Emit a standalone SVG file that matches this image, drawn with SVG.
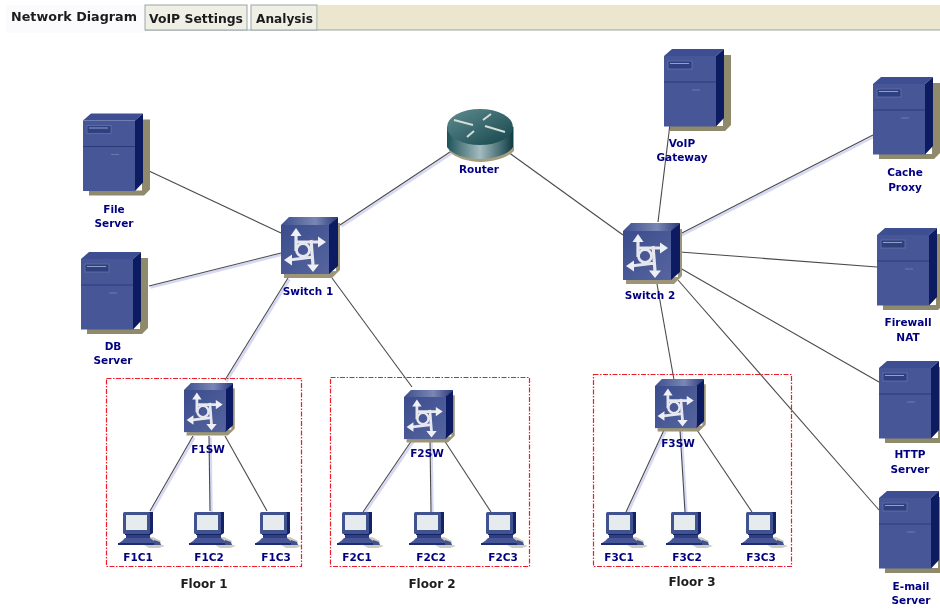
<svg xmlns="http://www.w3.org/2000/svg" width="940" height="610" viewBox="0 0 940 610">
<style>
text{font-family:"DejaVu Sans",Verdana,sans-serif;font-weight:bold}
.l{font-size:10.5px;fill:#000080;text-anchor:middle}
.f{font-size:12px;fill:#1a1a1a;text-anchor:middle}
.t{font-size:12.5px;fill:#1c1c1c}
.c line{stroke:#4a4a4a;stroke-width:1.1}
.h line{stroke:#d6d8f6;stroke-width:2.5}
.z{fill:none;stroke:#ee1c2c;stroke-width:1.2;stroke-dasharray:5 1.5 1.5 1.5}
.tab{fill:#f0efe6;stroke:#9aa5a5;stroke-width:1}
</style>
<defs>
<filter id="soft" x="0" y="0" width="100%" height="100%"><feGaussianBlur stdDeviation="0.35"/></filter>
<linearGradient id="rg" x1="0" x2="1" y1="0" y2="0"><stop offset="0" stop-color="#1d5258"/><stop offset=".5" stop-color="#a3bcc0"/><stop offset="1" stop-color="#0f3b42"/></linearGradient>
<linearGradient id="rt" x1="0" x2="1" y1="0" y2="1"><stop offset="0" stop-color="#5f8d90"/><stop offset="1" stop-color="#14444a"/></linearGradient>
<linearGradient id="st" x1="0" x2="1" y1="0" y2="0"><stop offset="0" stop-color="#3d4f8e"/><stop offset=".6" stop-color="#7a86b4"/><stop offset="1" stop-color="#2c3a7c"/></linearGradient>
<linearGradient id="sf" x1="0" x2="1" y1="0" y2="1"><stop offset="0" stop-color="#3b4c8c"/><stop offset="1" stop-color="#56659f"/></linearGradient>
<symbol id="server-icon" overflow="visible">
<path d="M6 75H61l6-6V-1H59V70H6z" fill="#8f8a6c"/>
<path d="M0 0l8-7h52l-8 7z" fill="#3d5092"/>
<path d="M52 0l8-7v69l-8 8.500z" fill="#0f1f60"/>
<rect width="52" height="70.500" fill="#465796"/>
<path d="M0 26h52" stroke="#2c3b7c"/>
<rect x="4" y="5" width="24" height="8" fill="#2f3f80" stroke="#6373a8" stroke-width=".8"/>
<path d="M6 7.500h19" stroke="#93a0c6"/>
<path d="M28 34h8" stroke="#6b79ac"/>
</symbol>
<symbol id="switch-icon" overflow="visible">
<path d="M3 49V53H51l8-8V-2H55V46z" fill="#9c9676"/>
<path d="M0 0l8-8h49l-8 8z" fill="url(#st)"/>
<path d="M48 0l9-8v49l-9 8z" fill="#101f62"/>
<rect width="48" height="49" fill="url(#sf)"/>
<g fill="none" stroke="#e6e8ee" stroke-width="3.200">
<path d="M15 8V26M15 17H39M30 15L32 40M32 32L8 35"/>
<circle cx="22" cy="25" r="6.500" stroke-width="2.800"/>
</g>
<g fill="#eef0f4"><path d="M15 3l5.500 8H9.500zM45 17l-8 5.500V11.500zM3 35l8-5.500v11zM32 47l-6-7.500h12z"/></g>
</symbol>
<symbol id="pc-icon" overflow="visible">
<path d="M10 26l20-1 8 4-2 3 6 2-6 2H26z" fill="#b9b7a5" opacity=".7"/>
<path d="M2 0h28v21l-3 2H2z" fill="#142468"/>
<rect width="27" height="22" rx="1.500" fill="#41528f"/>
<rect x="3" y="3" width="21" height="15" fill="#e6ebee"/>
<path d="M3 23h24v3H3z" fill="#2f3f80"/>
<path d="M-1 29l3-3h25l4 3v2H-4z" fill="#465796"/>
<path d="M-5 31h36v2H-5z" fill="#1d2d70"/>
<path d="M31 28l6 2 1 3h-7z" fill="#41528f"/>
</symbol>
<symbol id="router-icon" overflow="visible">
<path d="M2 18v24c6 7 20 11 32 11s26-4 33-11V18z" fill="#a49e7e"/>
<path d="M0 18v20c4 7 18 12 33 12s29-5 33-12V18z" fill="url(#rg)"/>
<ellipse cx="33" cy="18" rx="33" ry="18" fill="url(#rt)"/>
<g stroke="#d5dcd8" stroke-width="2" fill="none"><path d="M7 11l19 5M38 17l20 6M44 5l-8 6M27 22l-7 6"/></g>
</symbol>
</defs>
<g filter="url(#soft)">
<rect width="940" height="610" fill="#fff"/>
<rect x="318" y="5" width="622" height="25" fill="#ece6cf"/>
<path d="M145 30H940" stroke="#9aa5a5"/>
<rect x="6" y="5" width="138" height="28" fill="#fbfbfe"/>
<rect x="145" y="5" width="102" height="25" class="tab"/>
<rect x="251" y="5" width="66" height="25" class="tab"/>
<text x="11" y="21" class="t" textLength="126" lengthAdjust="spacingAndGlyphs">Network Diagram</text>
<text x="149" y="23" class="t" textLength="94" lengthAdjust="spacingAndGlyphs">VoIP Settings</text>
<text x="256" y="23" class="t" textLength="57" lengthAdjust="spacingAndGlyphs">Analysis</text>
<g id="connectors">
<g class="h" transform="translate(1.500 1.500)">
<line x1="453" y1="150" x2="340" y2="225"/><line x1="149" y1="286" x2="281" y2="253"/><line x1="288" y1="278" x2="225" y2="380"/><line x1="193" y1="436" x2="150" y2="511"/><line x1="209" y1="436" x2="210" y2="511"/><line x1="412" y1="440" x2="363" y2="512"/><line x1="430" y1="440" x2="431" y2="512"/><line x1="680" y1="234" x2="873" y2="135"/><line x1="664" y1="430" x2="626" y2="512"/><line x1="680" y1="430" x2="685" y2="512"/>
</g>
<g class="c">
<line x1="149" y1="171" x2="281" y2="233"/>
<line x1="149" y1="286" x2="281" y2="253"/>
<line x1="453" y1="150" x2="340" y2="225"/>
<line x1="508" y1="152" x2="623" y2="235"/>
<line x1="288" y1="278" x2="225" y2="380"/>
<line x1="332" y1="278" x2="412" y2="387"/>
<line x1="670" y1="124" x2="658" y2="222"/>
<line x1="680" y1="234" x2="873" y2="135"/>
<line x1="680" y1="252" x2="877" y2="267"/>
<line x1="680" y1="268" x2="879" y2="382"/>
<line x1="678" y1="280" x2="879" y2="510"/>
<line x1="657" y1="284" x2="674" y2="380"/>
<line x1="193" y1="436" x2="150" y2="511"/>
<line x1="209" y1="436" x2="210" y2="511"/>
<line x1="225" y1="436" x2="267" y2="511"/>
<line x1="412" y1="440" x2="363" y2="512"/>
<line x1="430" y1="440" x2="431" y2="512"/>
<line x1="444" y1="440" x2="491" y2="512"/>
<line x1="664" y1="430" x2="626" y2="512"/>
<line x1="680" y1="430" x2="685" y2="512"/>
<line x1="697" y1="430" x2="752" y2="512"/>
</g>
</g>
<rect class="z" x="106.500" y="378.500" width="195" height="188"/>
<rect class="z" x="330.500" y="377.500" width="199" height="189"/>
<rect class="z" x="593.500" y="374.500" width="198" height="192"/>
<text class="f" x="204" y="588">Floor 1</text>
<text class="f" x="432" y="588">Floor 2</text>
<text class="f" x="692" y="586">Floor 3</text>
<g id="file-server"><use href="#server-icon" x="83" y="120.500"/><text class="l" x="114" y="213">File</text><text class="l" x="114" y="227">Server</text></g>
<g id="db-server"><use href="#server-icon" x="81" y="259"/><text class="l" x="113" y="350">DB</text><text class="l" x="113" y="364">Server</text></g>
<g id="voip-gateway"><use href="#server-icon" x="664" y="56"/><text class="l" x="682" y="147">VoIP</text><text class="l" x="682" y="161">Gateway</text></g>
<g id="cache-proxy"><use href="#server-icon" x="873" y="84"/><text class="l" x="905" y="176">Cache</text><text class="l" x="905" y="191">Proxy</text></g>
<g id="firewall-nat"><use href="#server-icon" x="877" y="235"/><text class="l" x="908" y="326">Firewall</text><text class="l" x="908" y="341">NAT</text></g>
<g id="http-server"><use href="#server-icon" x="879" y="368"/><text class="l" x="910" y="458">HTTP</text><text class="l" x="910" y="473">Server</text></g>
<g id="email-server"><use href="#server-icon" x="879" y="498"/><text class="l" x="911" y="590">E-mail</text><text class="l" x="911" y="604">Server</text></g>
<g id="router"><use href="#router-icon" x="447" y="109"/><text class="l" x="479" y="173">Router</text></g>
<g id="switch-1"><use href="#switch-icon" x="281" y="225"/><text class="l" x="308" y="295">Switch 1</text></g>
<g id="switch-2"><use href="#switch-icon" x="623" y="231"/><text class="l" x="650" y="299">Switch 2</text></g>
<g id="f1sw"><use href="#switch-icon" transform="translate(184 390) scale(.86)"/><text class="l" x="208" y="453">F1SW</text></g>
<g id="f2sw"><use href="#switch-icon" transform="translate(404 397) scale(.86)"/><text class="l" x="427" y="457">F2SW</text></g>
<g id="f3sw"><use href="#switch-icon" transform="translate(655 386) scale(.86)"/><text class="l" x="678" y="447">F3SW</text></g>
<g id="f1c1"><use href="#pc-icon" x="123" y="512"/><text class="l" x="138" y="561">F1C1</text></g>
<g id="f1c2"><use href="#pc-icon" x="194" y="512"/><text class="l" x="209" y="561">F1C2</text></g>
<g id="f1c3"><use href="#pc-icon" x="260" y="512"/><text class="l" x="276" y="561">F1C3</text></g>
<g id="f2c1"><use href="#pc-icon" x="342" y="512"/><text class="l" x="357" y="561">F2C1</text></g>
<g id="f2c2"><use href="#pc-icon" x="414" y="512"/><text class="l" x="431" y="561">F2C2</text></g>
<g id="f2c3"><use href="#pc-icon" x="486" y="512"/><text class="l" x="503" y="561">F2C3</text></g>
<g id="f3c1"><use href="#pc-icon" x="606" y="512"/><text class="l" x="619" y="561">F3C1</text></g>
<g id="f3c2"><use href="#pc-icon" x="671" y="512"/><text class="l" x="687" y="561">F3C2</text></g>
<g id="f3c3"><use href="#pc-icon" x="746" y="512"/><text class="l" x="761" y="561">F3C3</text></g>
</g>
</svg>
